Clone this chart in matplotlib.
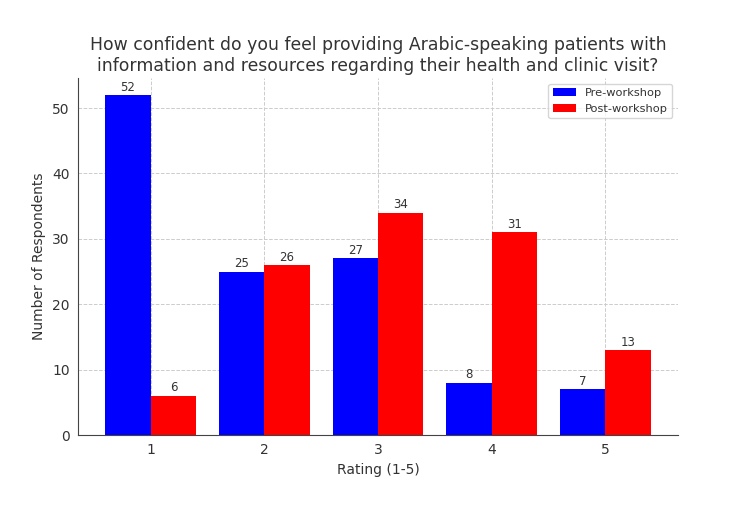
import matplotlib
matplotlib.use("Agg")
import matplotlib.pyplot as plt
import numpy as np

# Survey counts
ratings = ["1", "2", "3", "4", "5"]
pre_workshop = [52, 25, 27, 8, 7]
post_workshop = [6, 26, 34, 31, 13]

TXT = "#333333"

fig = plt.figure(figsize=(7.5, 5.13), dpi=100)
ax = fig.add_axes([0.104, 0.152, 0.8, 0.696])

x = np.arange(1, len(ratings) + 1)
w = 0.4
b1 = ax.bar(x - w / 2, pre_workshop, w, color="blue", label="Pre-workshop")
b2 = ax.bar(x + w / 2, post_workshop, w, color="red", label="Post-workshop")

ax.bar_label(b1, fontsize=8.5, color=TXT, padding=1)
ax.bar_label(b2, fontsize=8.5, color=TXT, padding=1)

ax.set_xticks(x)
ax.set_xticklabels(ratings)
ax.tick_params(length=0, labelsize=10, colors=TXT, pad=6)
ax.set_axisbelow(True)
ax.grid(True, linestyle="--", color="#cccccc", linewidth=0.7)

for s in ["top", "right"]:
    ax.spines[s].set_visible(False)
for s in ["left", "bottom"]:
    ax.spines[s].set_color("#444444")

ax.set_xlabel("Rating (1-5)", fontsize=10, color=TXT)
ax.set_ylabel("Number of Respondents", fontsize=10, color=TXT)
ax.set_title("How confident do you feel providing Arabic-speaking patients with\n"
             "information and resources regarding their health and clinic visit?",
             fontsize=12.4, color=TXT, pad=5)

leg = ax.legend(fontsize=8.2, loc="upper right")
for t in leg.get_texts():
    t.set_color(TXT)

fig.savefig("out.png", dpi=100)
